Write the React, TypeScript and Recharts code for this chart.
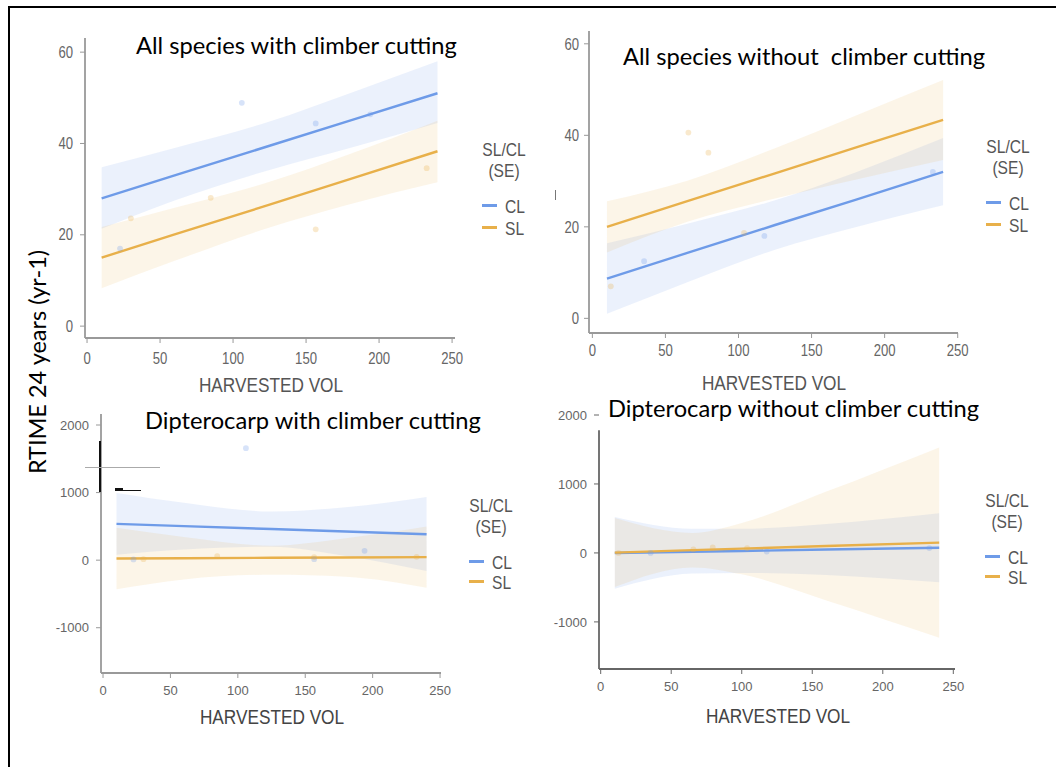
import { ComposedChart, Area, Line, Scatter, XAxis, YAxis, ZAxis, ReferenceLine } from 'recharts';

const X_TICKS = [0, 50, 100, 150, 200, 250];

// All species, with climber cutting
const p1BandX = [10, 60, 125, 180, 240];
const p1ClFit = [28, 33, 39.5, 45, 51];
const p1ClLow = [21.3, 27.5, 34.2, 39, 44.5];
const p1ClHigh = [34.8, 39, 44.8, 51, 58];
const p1SlFit = [15, 20.1, 26.6, 32.2, 38.3];
const p1SlLow = [8.3, 14.3, 21.6, 26.7, 31.5];
const p1SlHigh = [21.7, 25.9, 31.6, 37.7, 45];
const p1ClPtsX = [22.6, 106, 156.6, 194];
const p1ClPtsY = [17, 48.9, 44.4, 46.4];
const p1SlPtsX = [30, 84.7, 156.6, 232.6];
const p1SlPtsY = [23.6, 28.1, 21.2, 34.6];

// All species, without climber cutting
const p2BandX = [10, 65, 125, 180, 240];
const p2ClFit = [8.7, 14.3, 20.4, 25.9, 32];
const p2ClLow = [1, 7.9, 15, 19.9, 24.7];
const p2ClHigh = [16.4, 20.7, 25.8, 31.9, 39.4];
const p2SlFit = [20, 25.6, 31.7, 37.3, 43.4];
const p2SlLow = [14.4, 21.1, 26.2, 30.3, 34.6];
const p2SlHigh = [25.6, 30.1, 37.2, 44.3, 52.1];
const p2ClPtsX = [35.4, 117.7, 233];
const p2ClPtsY = [12.5, 18, 32];
const p2SlPtsX = [12.6, 65.7, 79.4, 103.8];
const p2SlPtsY = [7, 40.6, 36.2, 18.7];

// Dipterocarp, with climber cutting
const p3BandX = [10, 60, 125, 180, 240];
const p3ClFit = [537, 503, 460, 423, 383];
const p3ClLow = [79, 156, 200, 63, -160];
const p3ClHigh = [995, 850, 720, 783, 935];
const p3SlFit = [25, 29, 35, 40, 45];
const p3SlLow = [-430, -285, -215, -244, -407];
const p3SlHigh = [480, 343, 215, 324, 497];
const p3ClPtsX = [22.6, 106, 156.6, 194];
const p3ClPtsY = [10, 1657, 15, 139];
const p3SlPtsX = [30, 84.7, 156.6, 232.6];
const p3SlPtsY = [15, 60, 45, 50];

// Dipterocarp, without climber cutting
const p4BandX = [10, 65, 100, 160, 240];
const p4ClFit = [0, 18, 29, 49, 75];
const p4ClLow = [-520, -300, -290, -320, -425];
const p4ClHigh = [520, 350, 350, 420, 575];
const p4SlFit = [5, 40, 62, 100, 150];
const p4SlLow = [-495, -210, -310, -689, -1230];
const p4SlHigh = [505, 290, 434, 889, 1530];
const p4ClPtsX = [35.4, 117.7, 233];
const p4ClPtsY = [0, 20, 70];
const p4SlPtsX = [12.6, 65.7, 79.4, 103.8];
const p4SlPtsY = [0, 50, 80, 70];

const BLUE = '#6E9BE8';
const ORANGE = '#E8B04A';
const SANS = "'Liberation Sans', Arial, sans-serif";
const TITLE_FONT = "Lato, 'Open Sans', sans-serif";
const NARROW_X = 0.82; // squeeze Liberation Sans to look like Arial Narrow

const YW = 50;
const XH = 34;
const MT = 12;
const MR = 22;

function rows(bx: number[], cl: number[], clLo: number[], clHi: number[], sl: number[], slLo: number[], slHi: number[]) {
  return bx.map((x, i) => ({
    x,
    cl: cl[i],
    sl: sl[i],
    clBand: [clLo[i], clHi[i]],
    slBand: [slLo[i], slHi[i]],
  }));
}

function pts(xs: number[], ys: number[]) {
  return xs.map((x, i) => ({ x, y: ys[i] }));
}

// eslint-disable-next-line @typescript-eslint/no-explicit-any
const makeTick = (size: number, sx: number, axis: 'x' | 'y') => (props: any) => {
  const { x, y, payload, textAnchor } = props;
  return (
    <text transform={`translate(${x},${y}) scale(${sx},1)`} textAnchor={textAnchor}
      dy={axis === 'x' ? '0.71em' : '0.355em'} fontSize={size} fill="#666" fontFamily={SANS}>
      {payload.value}
    </text>
  );
};

interface PanelProps {
  left: number; right: number; top: number; bottom: number;
  xDomain: [number, number]; yDomain: [number, number];
  yTicks: number[];
  data: ReturnType<typeof rows>;
  clPts: { x: number; y: number }[];
  slPts: { x: number; y: number }[];
  tickSize: number; squeeze: number; axisColor: string;
  xMargin: number; yMargin: number;
  axisTop?: number;
}

function Panel(p: PanelProps) {
  const w = p.right - p.left;
  const h = p.bottom - p.top;
  return (
    <div style={{ position: 'absolute', left: p.left - YW, top: p.top - MT }}>
      <ComposedChart width={YW + w + MR} height={MT + h + XH} data={p.data}
        margin={{ top: MT, right: MR, bottom: 0, left: 0 }}>
        <XAxis dataKey="x" type="number" domain={p.xDomain} ticks={X_TICKS} allowDataOverflow
          height={XH} tick={makeTick(p.tickSize, p.squeeze, 'x')} tickSize={5} tickMargin={p.xMargin}
          axisLine={{ stroke: p.axisColor, strokeWidth: 1.8 }} tickLine={{ stroke: p.axisColor }} />
        <YAxis type="number" domain={p.yDomain} ticks={p.yTicks} allowDataOverflow width={YW}
          tick={makeTick(p.tickSize, p.squeeze, 'y')} tickSize={5} tickMargin={p.yMargin}
          axisLine={p.axisTop === undefined ? { stroke: p.axisColor, strokeWidth: 1.8 } : false}
          tickLine={{ stroke: p.axisColor }} />
        <ZAxis range={[26, 26]} />
        {p.axisTop !== undefined && (
          <ReferenceLine ifOverflow="visible" stroke={p.axisColor} strokeWidth={1.8}
            segment={[{ x: p.xDomain[0], y: p.yDomain[0] }, { x: p.xDomain[0], y: p.axisTop }]} />
        )}
        <Scatter data={p.clPts} dataKey="y" fill={BLUE} fillOpacity={0.28} isAnimationActive={false} />
        <Scatter data={p.slPts} dataKey="y" fill={ORANGE} fillOpacity={0.28} isAnimationActive={false} />
        <Area type="monotone" dataKey="clBand" stroke="none" fill={BLUE} fillOpacity={0.14} isAnimationActive={false} />
        <Line type="linear" dataKey="cl" stroke={BLUE} strokeWidth={2.4} dot={false} isAnimationActive={false} />
        <Area type="monotone" dataKey="slBand" stroke="none" fill={ORANGE} fillOpacity={0.13} isAnimationActive={false} />
        <Line type="linear" dataKey="sl" stroke={ORANGE} strokeWidth={2.4} dot={false} isAnimationActive={false} />
      </ComposedChart>
    </div>
  );
}

function Text({ x, y, size, children, font = SANS, color = '#555', anchor = 'left', squeeze = NARROW_X }: {
  x: number; y: number; size: number; children: string; font?: string; color?: string;
  anchor?: 'left' | 'center'; squeeze?: number;
}) {
  const shift = anchor === 'center' ? 'translateX(-50%) ' : '';
  return (
    <div style={{
      position: 'absolute', left: x, top: y - size / 2, display: 'inline-block',
      fontSize: size, lineHeight: `${size}px`, fontFamily: font, color, whiteSpace: 'pre',
      transform: `${shift}scaleX(${squeeze})`,
      transformOrigin: anchor === 'center' ? 'center' : 'left',
    }}>{children}</div>
  );
}

function LegendBox({ x, y, gap }: { x: number; y: number; gap: number }) {
  return (
    <>
      <Text x={x + 22} y={y} size={19} anchor="center">SL/CL</Text>
      <Text x={x + 22} y={y + 21} size={19} anchor="center">(SE)</Text>
      <div style={{ position: 'absolute', left: x, top: y + 55, width: 15, height: 3, background: BLUE }} />
      <Text x={x + 23} y={y + 57} size={19}>CL</Text>
      <div style={{ position: 'absolute', left: x, top: y + 55 + gap, width: 15, height: 3, background: ORANGE }} />
      <Text x={x + 23} y={y + 57 + gap} size={19}>SL</Text>
    </>
  );
}

export default function App() {
  return (
    <div style={{ position: 'fixed', left: 0, top: 0, width: 1060, height: 767, background: '#fff', overflow: 'hidden' }}>
      <div style={{ position: 'absolute', left: 8, top: 6, width: 1046, height: 770, borderTop: '2px solid #000', borderLeft: '2px solid #000' }} />

      <Panel left={85} right={455} top={38} bottom={338} xDomain={[-1.4, 252]} yDomain={[-2.6, 63.1]}
        yTicks={[0, 20, 40, 60]} tickSize={16} squeeze={NARROW_X} axisColor="#999" xMargin={10} yMargin={7}
        data={rows(p1BandX, p1ClFit, p1ClLow, p1ClHigh, p1SlFit, p1SlLow, p1SlHigh)}
        clPts={pts(p1ClPtsX, p1ClPtsY)} slPts={pts(p1SlPtsX, p1SlPtsY)} />
      <Panel left={589} right={958} top={31} bottom={333} xDomain={[-2.3, 250.2]} yDomain={[-3.2, 62.8]}
        yTicks={[0, 20, 40, 60]} tickSize={16} squeeze={NARROW_X} axisColor="#999" xMargin={7} yMargin={5}
        data={rows(p2BandX, p2ClFit, p2ClLow, p2ClHigh, p2SlFit, p2SlLow, p2SlHigh)}
        clPts={pts(p2ClPtsX, p2ClPtsY)} slPts={pts(p2SlPtsX, p2SlPtsY)} />
      <Panel left={101} right={441} top={414} bottom={673} xDomain={[-1.5, 250.7]} yDomain={[-1670, 2163]}
        yTicks={[-1000, 0, 1000, 2000]} tickSize={13} squeeze={1} axisColor="#999" xMargin={8} yMargin={7}
        data={rows(p3BandX, p3ClFit, p3ClLow, p3ClHigh, p3SlFit, p3SlLow, p3SlHigh)}
        clPts={pts(p3ClPtsX, p3ClPtsY)} slPts={pts(p3SlPtsX, p3SlPtsY)} />
      <Panel left={599} right={955} top={415} bottom={669} xDomain={[-1.2, 251.2]} yDomain={[-1683, 2000]}
        yTicks={[-1000, 0, 1000, 2000]} tickSize={13} squeeze={1} axisColor="#666" xMargin={8} yMargin={7}
        axisTop={1779}
        data={rows(p4BandX, p4ClFit, p4ClLow, p4ClHigh, p4SlFit, p4SlLow, p4SlHigh)}
        clPts={pts(p4ClPtsX, p4ClPtsY)} slPts={pts(p4SlPtsX, p4SlPtsY)} />

      {/* leftover marks from the pasted screenshots */}
      <div style={{ position: 'absolute', left: 99, top: 441, width: 2, height: 51, background: '#111' }} />
      <div style={{ position: 'absolute', left: 85, top: 467, width: 75, height: 1, background: '#aaa' }} />
      <div style={{ position: 'absolute', left: 115, top: 488, width: 8, height: 3, background: '#111' }} />
      <div style={{ position: 'absolute', left: 123, top: 490, width: 18, height: 1, background: '#111' }} />
      <div style={{ position: 'absolute', left: 555, top: 190, width: 1, height: 10, background: '#777' }} />

      <Text x={136} y={46} size={23.7} font={TITLE_FONT} color="#000" squeeze={1}>All species with climber cutting</Text>
      <Text x={623} y={57} size={23.7} font={TITLE_FONT} color="#000" squeeze={1}>{'All species without  climber cutting'}</Text>
      <Text x={145} y={421} size={23.7} font={TITLE_FONT} color="#000" squeeze={1}>Dipterocarp with climber cutting</Text>
      <Text x={608} y={409} size={23.7} font={TITLE_FONT} color="#000" squeeze={1}>Dipterocarp without climber cutting</Text>

      <Text x={271} y={384} size={21} anchor="center">HARVESTED VOL</Text>
      <Text x={774} y={382} size={21} anchor="center">HARVESTED VOL</Text>
      <Text x={272} y={716} size={21} anchor="center" color="#444">HARVESTED VOL</Text>
      <Text x={778} y={715} size={21} anchor="center" color="#444">HARVESTED VOL</Text>

      <LegendBox x={482} y={149} gap={22} />
      <LegendBox x={986} y={146} gap={22} />
      <LegendBox x={469} y={505} gap={20} />
      <LegendBox x={985} y={500} gap={20} />

      <div style={{
        position: 'absolute', left: 37 - 150, top: 362 - 14, width: 300, height: 28, lineHeight: '28px',
        textAlign: 'center', transform: 'rotate(-90deg)', fontSize: 23.5, fontFamily: TITLE_FONT, color: '#000',
      }}>RTIME 24 years (yr-1)</div>
    </div>
  );
}
